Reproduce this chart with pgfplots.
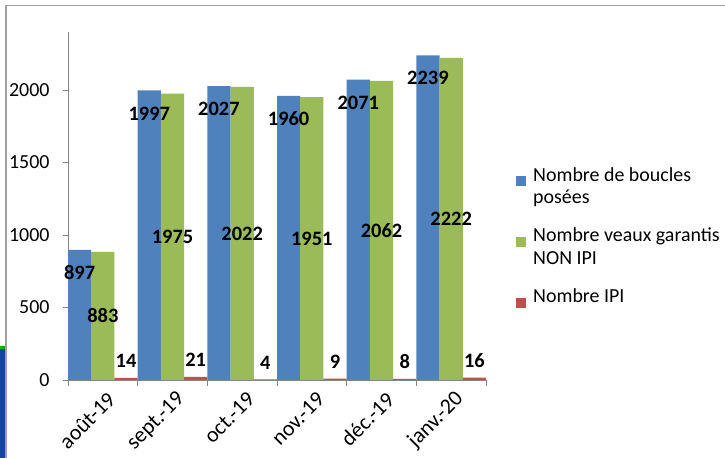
\documentclass[border=0pt]{standalone}
\usepackage{pgfplots}
\pgfplotsset{compat=1.18}
\usepackage{fontspec}
\setmainfont{Carlito}
\definecolor{cblue}{RGB}{79,129,189}
\definecolor{cgreen}{RGB}{155,187,89}
\definecolor{cred}{RGB}{192,80,77}
\definecolor{axgray}{RGB}{134,134,134}
\definecolor{frame}{RGB}{160,160,160}
\definecolor{artblue}{RGB}{20,66,160}
\begin{document}
\begin{tikzpicture}[x=1bp,y=1bp]
\fill[white] (0,0) rectangle (725,458);
\fill[artblue] (0,0) rectangle (5,109);
\fill[green!70!black] (0,109) rectangle (5,112);
\draw[frame, line width=1.5bp] (6,0) -- (6,452.5) -- (725,452.5);
\begin{axis}[
  at={(68bp,78bp)}, anchor=south west,
  scale only axis, width=418bp, height=348bp,
  xmin=-0.5, xmax=5.5, ymin=0, ymax=2400,
  axis x line*=bottom, axis y line*=left,
  axis line style={axgray, line width=0.9bp, -},
  every tick/.style={axgray, line width=0.9bp},
  tick align=outside,
  major tick length=5bp, minor tick length=6bp,
  ytick={0,500,1000,1500,2000},
  minor y tick num=0,
  xtick={0,1,2,3,4,5},
  xticklabels={août-19, sept.-19, oct.-19, nov.-19, déc.-19, janv.-20},
  x tick style={draw=none},
  minor xtick={-0.5,0.5,1.5,2.5,3.5,4.5,5.5},
  minor x tick style={draw=axgray, line width=0.9bp},
  ticklabel style={font=\fontsize{20}{23}\selectfont},
  yticklabel style={xshift=-10bp},
  xticklabel style={rotate=45, anchor=east, xshift=2bp, yshift=-14bp, font=\fontsize{22}{25}\selectfont},
  /pgf/number format/1000 sep={},
  /pgf/number format/assume math mode=true,
  ybar, bar width=0.3333,
  legend style={at={(rel axis cs:1.0718,0.612)}, anchor=north west, draw=none, fill=none,
    font=\fontsize{20}{23}\selectfont, row sep=19bp, column sep=7bp, inner sep=0pt,
    nodes={inner sep=0pt, outer sep=0pt, text depth=28bp}},
  legend cell align=left,
  legend image code/.code={\draw[#1, draw=none] (0bp,2bp) rectangle (10bp,12bp);},
  every node near coord/.append style={font=\bfseries\fontsize{20.5}{24}\selectfont, text=black},
]
\addplot[fill=cblue, draw=none, bar shift=-0.3333, nodes near coords,
  every node near coord/.append style={anchor=center, yshift=-23bp}]
  coordinates {(0,897) (1,1997) (2,2027) (3,1960) (4,2071) (5,2239)};
\addlegendentry{\vtop{\hbox{Nombre de boucles}\hbox{posées}}}
\addplot[fill=cgreen, draw=none, bar shift=0, nodes near coords,
  visualization depends on={y \as \rawy},
  every node near coord/.append style={anchor=center, yshift={-0.0725*\rawy*1bp}}]
  coordinates {(0,883) (1,1975) (2,2022) (3,1951) (4,2062) (5,2222)};
\addlegendentry{\vtop{\hbox{Nombre veaux garantis}\hbox{NON IPI}}}
\addplot[fill=cred, draw=none, bar shift=0.3333, nodes near coords,
  every node near coord/.append style={anchor=center, yshift=17bp}]
  coordinates {(0,14) (1,21) (2,4) (3,9) (4,8) (5,16)};
\addlegendentry{Nombre IPI}
\end{axis}
\pgfresetboundingbox
\useasboundingbox (0,0) rectangle (725,458);
\end{tikzpicture}
\end{document}
